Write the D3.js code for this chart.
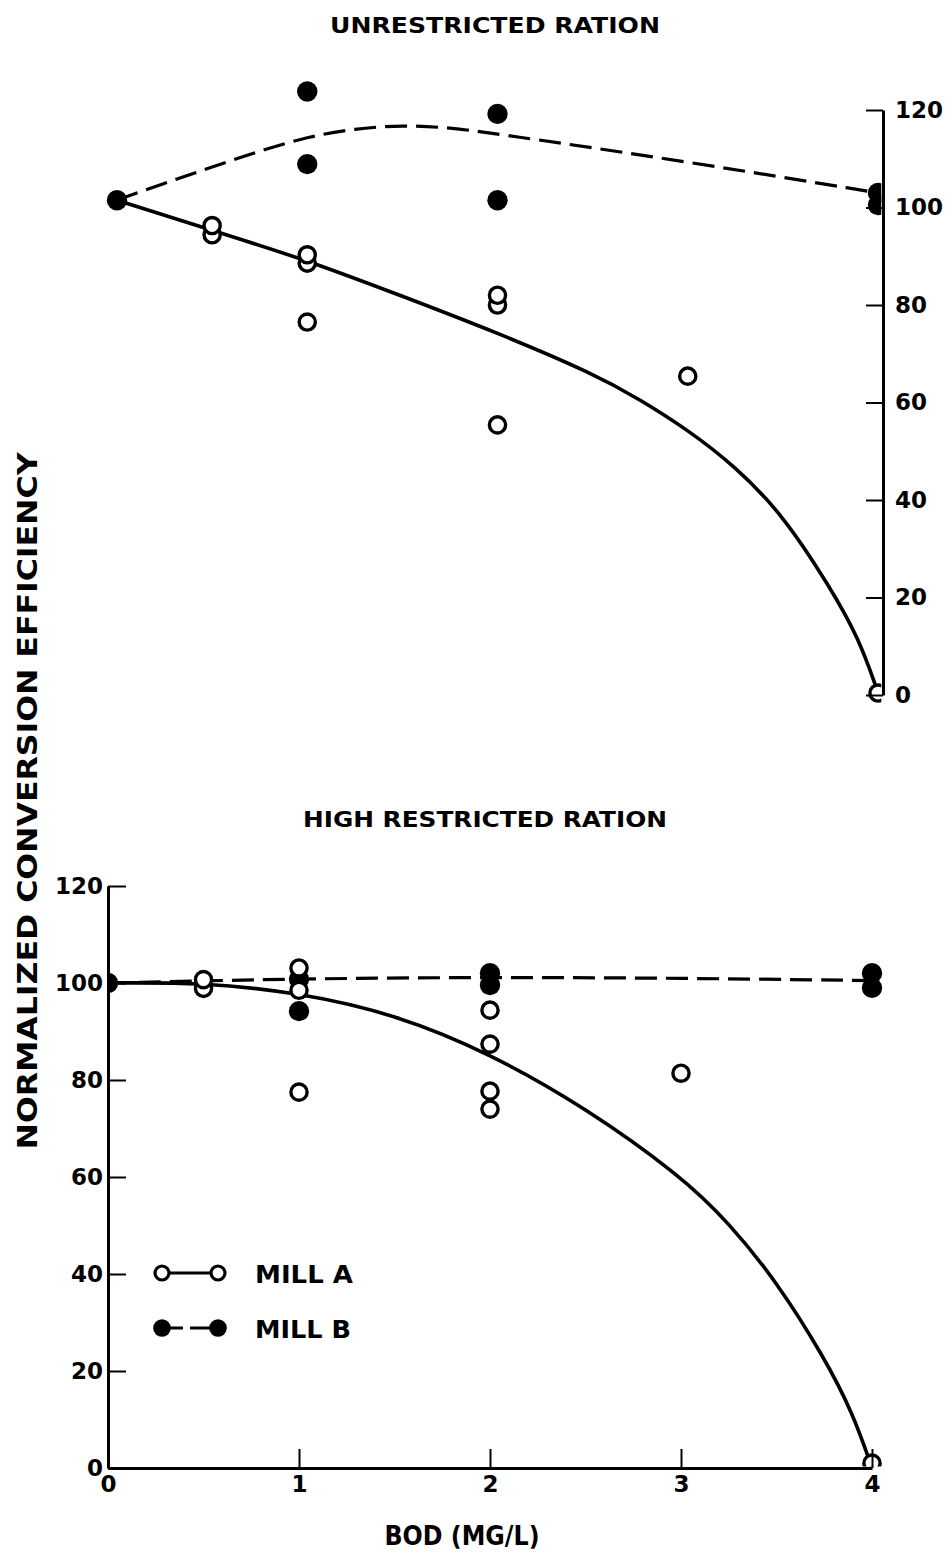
<!DOCTYPE html>
<html>
<head>
<meta charset="utf-8">
<script src="https://cdn.jsdelivr.net/npm/d3@7"></script>
<style>
  html, body { margin: 0; padding: 0; background: #fff; }
  svg { display: block; }
  text { font-family: "DejaVu Sans", "Liberation Sans", Arial, sans-serif; font-weight: bold; fill: #000; }
</style>
</head>
<body>
<script>
// BOD levels and axis ticks
const bodTicks = [0, 1, 2, 3, 4];
const efficiencyTicks = [0, 20, 40, 60, 80, 100, 120];

// Unrestricted ration: observations [BOD, efficiency]
const unrestrictedMillA = [[0.5, 96.3], [0.5, 94.4], [1, 90.3], [1, 88.6], [1, 76.5],
                           [2, 82.0], [2, 80.0], [2, 55.4], [3, 65.4], [4, 0.4]];
const unrestrictedMillB = [[0, 101.5], [1, 123.8], [1, 108.9], [2, 119.2], [2, 101.5],
                           [4, 103.0], [4, 100.5]];
// Unrestricted ration: fitted curves
const unrestrictedFitA = [[0, 101.5], [0.5, 95.3], [1, 89.2], [1.5, 81.8], [2, 74.3], [2.5, 66.0],
                          [2.75, 60.6], [3, 54.4], [3.25, 46.9], [3.5, 37.0], [3.75, 22.0], [3.9, 11.6], [4, 0.5]];
const unrestrictedFitB = [[0, 101.5], [0.25, 105.0], [0.5, 108.3], [0.75, 111.6], [1, 114.5],
                          [1.25, 116.2], [1.5, 116.9], [1.75, 116.4], [2, 115.1], [3, 109.4], [4, 103.0]];

// High restricted ration: observations [BOD, efficiency]
const restrictedMillA = [[0.5, 100.7], [0.5, 98.9], [1, 103.1], [1, 98.5], [1, 77.5],
                         [2, 94.4], [2, 87.4], [2, 77.7], [2, 74.0], [3, 81.4], [4, 1.0]];
const restrictedMillB = [[0, 100.0], [1, 100.8], [1, 94.2], [2, 102.0], [2, 99.6],
                         [4, 102.0], [4, 99.0]];
// High restricted ration: fitted curves
const restrictedFitA = [[0, 100.0], [0.5, 100.1], [1, 98.0], [1.5, 93.6], [2, 85.5], [2.5, 74.3],
                        [3, 60.2], [3.25, 50.6], [3.5, 38.5], [3.75, 22.8], [3.9, 11.3], [4, 0]];
const restrictedFitB = [[0, 100.0], [1, 100.9], [2, 101.2], [3, 101.0], [4, 100.5]];

const panelTitles = ["UNRESTRICTED RATION", "HIGH RESTRICTED RATION"];
const seriesNames = ["MILL A", "MILL B"];
const yAxisTitle = "NORMALIZED CONVERSION EFFICIENCY";
const xAxisTitle = "BOD (MG/L)";

const W = 945, H = 1554;
const svg = d3.select("body").append("svg").attr("width", W).attr("height", H);

const DASH = "22,9";

// Scales for each panel
const xTop = d3.scaleLinear().domain([0, 4]).range([117, 878]);
const yTop = d3.scaleLinear().domain([0, 120]).range([695, 110]);
const xBot = d3.scaleLinear().domain([0, 4]).range([108, 872]);
const yBot = d3.scaleLinear().domain([0, 120]).range([1468, 886]);

const defs = svg.append("defs");
defs.append("clipPath").attr("id", "clip-top")
  .append("rect").attr("x", 0).attr("y", 60).attr("width", 881.3).attr("height", 700);
defs.append("clipPath").attr("id", "clip-bot")
  .append("rect").attr("x", 109.6).attr("y", 860).attr("width", 835).attr("height", 1466.5 - 860);

function drawPanel(opts) {
  const { x, y, clip, fitA, fitB, millA, millB } = opts;
  const g = svg.append("g").attr("clip-path", `url(#${clip})`);
  const line = d3.line().x(d => x(d[0])).y(d => y(d[1])).curve(d3.curveBasis);

  g.append("path").datum(fitB).attr("d", line)
    .attr("fill", "none").attr("stroke", "#000").attr("stroke-width", 3.2)
    .attr("stroke-dasharray", DASH);
  g.append("path").datum(fitA).attr("d", line)
    .attr("fill", "none").attr("stroke", "#000").attr("stroke-width", 3.6);

  g.selectAll("circle.b").data(millB).join("circle").attr("class", "b")
    .attr("cx", d => x(d[0])).attr("cy", d => y(d[1])).attr("r", 10.2)
    .attr("fill", "#000");

  // higher readings drawn last so they sit on top of overlapping ones
  const sortedA = millA.slice().sort((a, b) => a[1] - b[1]);
  g.selectAll("circle.a").data(sortedA).join("circle").attr("class", "a")
    .attr("cx", d => x(d[0])).attr("cy", d => y(d[1])).attr("r", 8.1)
    .attr("fill", "#fff").attr("stroke", "#000").attr("stroke-width", 3.4);
}

drawPanel({ x: xTop, y: yTop, clip: "clip-top",
  fitA: unrestrictedFitA, fitB: unrestrictedFitB, millA: unrestrictedMillA, millB: unrestrictedMillB });
drawPanel({ x: xBot, y: yBot, clip: "clip-bot",
  fitA: restrictedFitA, fitB: restrictedFitB, millA: restrictedMillA, millB: restrictedMillB });

function styleAxis(g) {
  g.select(".domain").attr("stroke", "#000").attr("stroke-width", 3);
  g.selectAll(".tick line").attr("stroke", "#000").attr("stroke-width", 2);
  g.selectAll(".tick text").style("font-size", "23px").attr("fill", "#000")
    .style("font-family", "'DejaVu Sans', sans-serif").style("font-weight", "bold");
}

// Top panel: right-hand efficiency axis
svg.append("g").attr("transform", "translate(883,0)")
  .call(d3.axisRight(yTop).tickValues(efficiencyTicks).tickSize(-17).tickSizeOuter(0).tickPadding(12))
  .call(styleAxis);

// Bottom panel: left efficiency axis and BOD axis
svg.append("g").attr("transform", "translate(108,0)")
  .call(d3.axisLeft(yBot).tickValues(efficiencyTicks).tickSize(-18).tickSizeOuter(0).tickPadding(5))
  .call(styleAxis);
svg.append("g").attr("transform", "translate(0,1468)")
  .call(d3.axisBottom(xBot).tickValues(bodTicks).tickFormat(d3.format("d")).tickSize(-19).tickSizeOuter(0).tickPadding(8))
  .call(styleAxis);

// Panel titles
svg.append("text").attr("x", 495).attr("y", 33).attr("text-anchor", "middle")
  .style("font-size", "22px").attr("textLength", 330).attr("lengthAdjust", "spacingAndGlyphs")
  .text(panelTitles[0]);
svg.append("text").attr("x", 485).attr("y", 827).attr("text-anchor", "middle")
  .style("font-size", "21px").attr("textLength", 364).attr("lengthAdjust", "spacingAndGlyphs")
  .text(panelTitles[1]);

// Axis titles
svg.append("text").attr("transform", "translate(37,801) rotate(-90)").attr("text-anchor", "middle")
  .style("font-size", "26px").attr("textLength", 697).attr("lengthAdjust", "spacingAndGlyphs")
  .text(yAxisTitle);
svg.append("text").attr("x", 462).attr("y", 1545).attr("text-anchor", "middle")
  .style("font-size", "26px").attr("textLength", 155).attr("lengthAdjust", "spacingAndGlyphs")
  .text(xAxisTitle);

// Legend
const legend = svg.append("g").attr("transform", "translate(162,1273)");
const legendRows = legend.selectAll("g").data(seriesNames).join("g")
  .attr("transform", (d, i) => `translate(0,${i * 55})`);
legendRows.append("line").attr("x1", 0).attr("x2", 56).attr("y1", 0).attr("y2", 0)
  .attr("stroke", "#000").attr("stroke-width", 3)
  .attr("stroke-dasharray", (d, i) => i === 1 ? "21,7,40" : null);
legendRows.each(function(d, i) {
  const row = d3.select(this);
  [0, 56].forEach(cx => {
    if (i === 0) {
      row.append("circle").attr("cx", cx).attr("cy", 0).attr("r", 7)
        .attr("fill", "#fff").attr("stroke", "#000").attr("stroke-width", 3.2);
    } else {
      row.append("circle").attr("cx", cx).attr("cy", 0).attr("r", 8.8).attr("fill", "#000");
    }
  });
});
legendRows.append("text").attr("x", 93).attr("y", 10)
  .style("font-size", "24px").attr("textLength", (d, i) => i === 0 ? 98 : 96)
  .attr("lengthAdjust", "spacingAndGlyphs")
  .text(d => d);
</script>
</body>
</html>
